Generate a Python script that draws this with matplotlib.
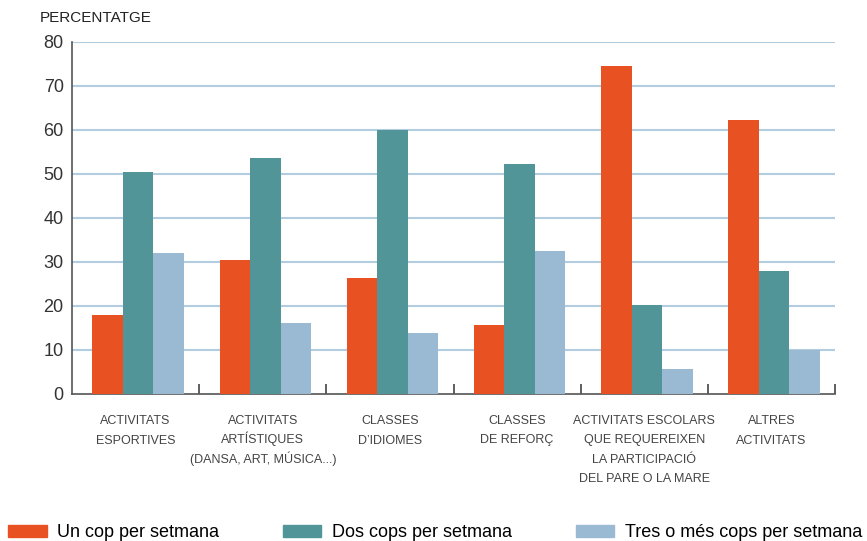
import numpy as np
import matplotlib.pyplot as plt
import matplotlib.transforms as mtransforms
from matplotlib.patches import Patch

categories = [
    'ACTIVITATS\nESPORTIVES',
    'ACTIVITATS\nARTÍSTIQUES\n(DANSA, ART, MÚSICA...)',
    'CLASSES\nD\u2019IDIOMES',
    'CLASSES\nDE REFORÇ',
    'ACTIVITATS ESCOLARS\nQUE REQUEREIXEN\nLA PARTICIPACIÓ\nDEL PARE O LA MARE',
    'ALTRES\nACTIVITATS',
]
un_cop = [18.0, 30.5, 26.4, 15.7, 74.5, 62.2]
dos_cops = [50.4, 53.6, 60.0, 52.3, 20.3, 28.0]
tres_cops = [32.0, 16.2, 13.9, 32.5, 5.7, 10.1]
series_names = ['Un cop per setmana', 'Dos cops per setmana', 'Tres o més cops per setmana']
colors = ['#e85222', '#529598', '#9ab9d3']
yticks = [0, 10, 20, 30, 40, 50, 60, 70, 80]

plt.rcParams['font.family'] = ['Liberation Sans', 'DejaVu Sans']

fig = plt.figure(figsize=(8.67, 5.41), dpi=100)
ax = fig.add_axes([72 / 867, 1 - 394 / 541, (835 - 72) / 867, (394 - 42) / 541])

x = np.arange(len(categories))
w = 0.24
for k, (vals, c) in enumerate(zip([un_cop, dos_cops, tres_cops], colors)):
    ax.bar(x + 0.52 + (k - 1) * w, vals, width=w, color=c, zorder=3)

ax.set_xlim(0, len(categories))
ax.set_ylim(0, 80)
ax.set_yticks(yticks)
ax.set_yticklabels([str(t) for t in yticks], fontsize=13, color='#333333')
for t in yticks[1:]:
    ax.axhline(t, color='#b3cde0', lw=1.5, zorder=1)

# category labels, one text per line so the spacing stays even
ax.set_xticks([])
ax.set_xticks(np.arange(1, len(categories) + 1), minor=True)
ax.tick_params(axis='x', which='minor', length=7, direction='in', color='#444444', width=1.2)
ax.tick_params(axis='y', length=0, pad=6)
base = ax.get_xaxis_transform()
for i, lab in enumerate(categories):
    for j, line in enumerate(lab.split('\n')):
        off = mtransforms.ScaledTranslation(0, -(30 + 19.5 * j) / 100, fig.dpi_scale_trans)
        ax.text(i + 0.5, 0, line, transform=base + off, ha='center', va='baseline',
                fontsize=9, color='#444444')

for s in ['top', 'right']:
    ax.spines[s].set_visible(False)
for s in ['left', 'bottom']:
    ax.spines[s].set_color('#555555')
    ax.spines[s].set_linewidth(1.2)

fig.text(40 / 867, 1 - 18 / 541, 'PERCENTATGE', fontsize=11, color='#222222',
         va='center', ha='left')

handles = [Patch(color=c) for c in colors]
fig.legend(handles, series_names, loc='lower left', bbox_to_anchor=(6 / 867, -0.004),
           ncol=3, frameon=False, fontsize=13, handlelength=2.15, handleheight=0.6,
           handletextpad=0.6, columnspacing=3.5, borderaxespad=0, borderpad=0.1)

fig.savefig('out.png', dpi=100)
